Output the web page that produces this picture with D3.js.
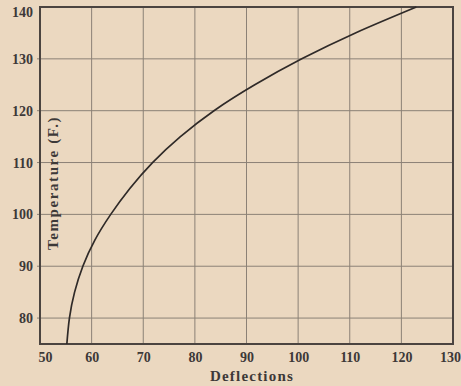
<!DOCTYPE html>
<html>
<head>
<meta charset="utf-8">
<script src="https://cdn.jsdelivr.net/npm/d3@7"></script>
<style>
    body { margin: 0; background-color: #ebd8c0; }
</style>
</head>
<body>
<script>

// curve: deflection at each temperature
const temperatures = [75, 80, 85, 90, 95, 100, 105, 110, 115, 120, 125, 130, 135, 140]
const deflections = [55.2, 55.7, 56.7, 58.3, 60.6, 63.7, 67.4, 71.8, 77.2, 83.7, 91.6, 100.7, 111.1, 122.9]

const xTicks = [50, 60, 70, 80, 90, 100, 110, 120, 130]
const yTicks = [80, 90, 100, 110, 120, 130, 140]

class plate {

    constructor(id){
        this.id = id
        this.width = 461
        this.height = 386
        this.box = {left: 40, right: 453, top: 7, bottom: 344}
        this.styles = {
            paper: '#ebd8c0',
            grid: '#8b8176',
            frame: '#4b4440',
            ink: '#2f2a28',
            label: '#3d3938',
            fontFamily: '"Liberation Serif", "DejaVu Serif", serif'
        }
    }

    setup(){
        this.svg = d3.select('body')
            .append('svg')
            .attr('id', this.id + 'Svg')
            .attr('width', this.width)
            .attr('height', this.height)

        this.svg.append('rect')
            .attr('width', this.width)
            .attr('height', this.height)
            .attr('fill', this.styles.paper)

        this.x = d3.scaleLinear().domain([50, 130]).range([this.box.left, this.box.right])
        this.y = d3.scaleLinear().domain([75, 140]).range([this.box.bottom, this.box.top])
    }

    drawGrid(){
        const g = this.svg.append('g').attr('class', 'grid')

        g.selectAll('line.v')
            .data(xTicks.slice(1, -1))
            .join('line')
            .attr('class', 'v')
            .attr('x1', d => this.x(d)).attr('x2', d => this.x(d))
            .attr('y1', this.box.top).attr('y2', this.box.bottom)
            .attr('stroke', this.styles.grid)
            .attr('stroke-width', 1)

        g.selectAll('line.h')
            .data(yTicks.slice(0, -1))
            .join('line')
            .attr('class', 'h')
            .attr('x1', this.box.left - 3).attr('x2', this.box.right)
            .attr('y1', d => this.y(d)).attr('y2', d => this.y(d))
            .attr('stroke', this.styles.grid)
            .attr('stroke-width', 1)

        g.append('rect')
            .attr('x', this.box.left)
            .attr('y', this.box.top)
            .attr('width', this.box.right - this.box.left)
            .attr('height', this.box.bottom - this.box.top)
            .attr('fill', 'none')
            .attr('stroke', this.styles.frame)
            .attr('stroke-width', 2)
    }

    drawAxes(){
        const xAxis = d3.axisBottom(this.x).tickValues(xTicks).tickSize(0).tickPadding(8)
        const yAxis = d3.axisLeft(this.y).tickValues(yTicks).tickSize(0).tickPadding(6)

        const gx = this.svg.append('g')
            .attr('transform', 'translate(0,' + this.box.bottom + ')')
            .call(xAxis)

        const gy = this.svg.append('g')
            .attr('transform', 'translate(' + (this.box.left - 1) + ',0)')
            .call(yAxis)

        for (const g of [gx, gy]) {
            g.select('.domain').remove()
            g.selectAll('text')
                .style('font-family', this.styles.fontFamily)
                .style('font-size', '14px')
                .style('font-weight', 'bold')
                .attr('fill', this.styles.label)
        }
        gx.selectAll('text').attr('dy', '0.7em')
            .attr('dx', d => d === 50 ? 5 : (d === 130 ? -3 : 0))
        // top label sits a little lower so it stays on the page
        gy.selectAll('text').filter(d => d === 140).attr('dy', '0.7em')

        this.svg.append('text')
            .text('Deflections')
            .attr('x', 252)
            .attr('y', 381)
            .attr('text-anchor', 'middle')
            .style('font-family', this.styles.fontFamily)
            .style('font-size', '15px')
            .style('font-weight', 'bold')
            .style('letter-spacing', '1.2px')
            .attr('fill', this.styles.label)

        this.svg.append('text')
            .text('Temperature (F.)')
            .attr('transform', 'translate(58,183) rotate(-90)')
            .attr('text-anchor', 'middle')
            .style('font-family', this.styles.fontFamily)
            .style('font-size', '15px')
            .style('font-weight', 'bold')
            .style('letter-spacing', '1.6px')
            .attr('fill', this.styles.label)
    }

    drawCurve(){
        const points = temperatures.map((t, i) => ({t: t, d: deflections[i]}))

        const line = d3.line()
            .x(p => this.x(p.d))
            .y(p => this.y(p.t))
            .curve(d3.curveNatural)

        this.svg.append('path')
            .datum(points)
            .attr('d', line)
            .attr('fill', 'none')
            .attr('stroke', this.styles.ink)
            .attr('stroke-width', 1.7)
    }
}

const chart = new plate('deflection')
chart.setup()
chart.drawGrid()
chart.drawAxes()
chart.drawCurve()

</script>
</body>
</html>
